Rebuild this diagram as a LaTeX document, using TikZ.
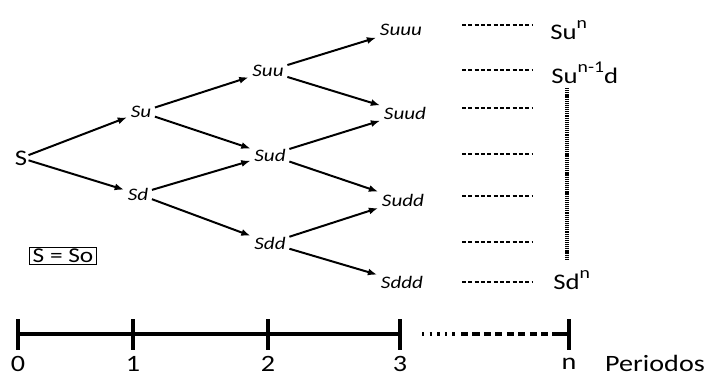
\documentclass[tikz,border=0pt]{standalone}
\usepackage{fontspec}
\setmainfont{Carlito}[FakeStretch=1.2]
\usetikzlibrary{arrows.meta}
\newcommand{\hoch}[1]{\raisebox{0.5em}{\fontsize{14}{14}\selectfont #1}}

\begin{document}
\begin{tikzpicture}[x=0.03cm, y=-0.03cm,
        arr/.style={-{Latex[length=8pt,width=6pt]}, line width=1.7pt},
        main/.style={inner sep=3pt, font=\fontsize{15}{17}\selectfont\itshape},
        big/.style={inner sep=1pt, font=\fontsize{20}{24}\selectfont},
        dots/.style={line width=2pt, dash pattern=on 3.4pt off 2pt},
        axis/.style={line width=3.4pt}]
        \useasboundingbox (0,0) rectangle (707,378);

        % tree
        \node[big, font=\fontsize{19}{22}\selectfont] (S) at (21,158) {S};
        \node[main] (u) at (141,112) {Su};
        \node[main] (d) at (138,194) {Sd};
        \node[main] (uu) at (268,71) {Suu};
        \node[main] (ud) at (270,155) {Sud};
        \node[main] (dd) at (270,243) {Sdd};
        \node[main] (uuu) at (401,30) {Suuu};
        \node[main] (uud) at (405,113) {Suud};
        \node[main] (udd) at (403,200) {Sudd};
        \node[main] (ddd) at (402,282) {Sddd};

        \path[arr]
            (S) edge (u) edge (d)
            (u) edge (uu) edge (ud)
            (d) edge (ud) edge (dd)
            (uu) edge (uuu) edge (uud)
            (ud) edge (uud) edge (udd)
            (dd) edge (udd) edge (ddd)
            ;

        % final values
        \foreach \y in {25,70,108,154,196,242,282}
            \draw[dots] (462,\y) -- (533,\y);
        \node[big, anchor=west, font=\fontsize{19}{22}\selectfont] (un) at (549,30) {Su\hoch{n}};
        \node[big, anchor=west, font=\fontsize{19}{22}\selectfont] (un1) at (550,73) {Su\hoch{n-1}d};
        \node[big, anchor=west, font=\fontsize{19}{22}\selectfont] (dn) at (552,280) {Sd\hoch{n}};
        \draw[line width=2.8pt, dash pattern=on 1pt off 0.8pt] (567,88) -- (567,260);

        \node[draw, line width=1.1pt, inner xsep=2.5pt, inner ysep=1.5pt, font=\fontsize{18}{20}\selectfont] (s0) at (63,256) {S = So};

        % periods
        \coordinate (t0) at (18,334);
        \coordinate (t1) at (133,334);
        \coordinate (t2) at (268,334);
        \coordinate (t3) at (400,334);
        \coordinate (tn) at (569,334);
        \draw[axis] (t0) -- (t3);
        \draw[axis, dash pattern=on 2pt off 4.5pt] (t3) ++(22,0) -- ++(36,0);
        \draw[axis, dash pattern=on 6pt off 3.8pt] (t3) ++(61,0) -- (552,334);
        \draw[axis] (552,334) -- (tn);
        \foreach \t/\lab in {t0/0, t1/1, t2/2, t3/3, tn/n} {
            \draw[axis] (\t) ++(0,-15) -- ++(0,31);
            \node[big] at ([yshift=-0.9cm]\t) {\lab};
        }
        \node[big] (per) at (655,363) {Periodos};
\end{tikzpicture}
\end{document}
